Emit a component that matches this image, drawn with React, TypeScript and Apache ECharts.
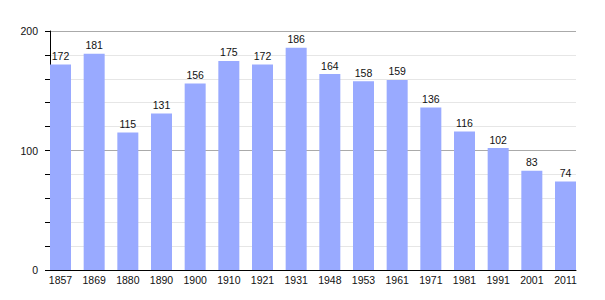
import React, { useEffect, useRef } from "react";
import * as echarts from "echarts";

const years = ["1857", "1869", "1880", "1890", "1900", "1910", "1921", "1931", "1948", "1953", "1961", "1971", "1981", "1991", "2001", "2011"];
const population = [172, 181, 115, 131, 156, 175, 172, 186, 164, 158, 159, 136, 116, 102, 83, 74];
const yMin = 0;
const yMax = 200;
const yInterval = 100;

const FONT = "'Liberation Sans', Arial, Helvetica, sans-serif";

export default function App() {
  const ref = useRef<HTMLDivElement>(null);
  useEffect(() => {
    if (!ref.current) return;
    const chart = echarts.init(ref.current, undefined, { renderer: "svg" });
    chart.setOption({
      animation: false,
      backgroundColor: "#ffffff",
      textStyle: { fontFamily: FONT },
      grid: [
        { left: 50, right: 29, top: 31, bottom: 30 },
        { left: 43.67, right: 22.67, top: 31, bottom: 30 },
      ],
      xAxis: [
        {
          gridIndex: 0,
          type: "category",
          data: years,
          axisLine: { show: true, lineStyle: { color: "#000", width: 1 } },
          axisTick: { show: false },
          axisLabel: { show: false },
          splitLine: { show: false },
        },
        {
          gridIndex: 1,
          type: "category",
          data: years,
          axisLine: { show: false },
          axisTick: { show: false },
          axisLabel: { show: true, color: "#111", fontSize: 10.5, margin: 4, fontFamily: FONT },
          splitLine: { show: false },
        },
      ],
      yAxis: [
        {
          gridIndex: 0,
          type: "value",
          min: yMin,
          max: yMax,
          interval: yInterval,
          axisLine: { show: true, lineStyle: { color: "#000", width: 1 } },
          axisTick: { show: true, length: 5, lineStyle: { color: "#000" } },
          minorTick: { show: true, splitNumber: 5, length: 5, lineStyle: { color: "#000" } },
          axisLabel: { color: "#111", fontSize: 10.5, margin: 12, fontFamily: FONT },
          splitLine: { show: true, lineStyle: { color: "#aaaaaa", width: 1 } },
          minorSplitLine: { show: true, lineStyle: { color: "#e6e6e6", width: 1 } },
        },
        {
          gridIndex: 1,
          type: "value",
          min: yMin,
          max: yMax,
          show: false,
          splitLine: { show: false },
        },
      ],
      series: [
        {
          type: "bar",
          xAxisIndex: 1,
          yAxisIndex: 1,
          data: population,
          barWidth: 21,
          itemStyle: { color: "#99aaff" },
          label: {
            show: true,
            position: "top",
            distance: 3,
            color: "#111",
            fontSize: 10.5,
            fontFamily: FONT,
          },
        },
      ],
    });
    return () => chart.dispose();
  }, []);
  return <div ref={ref} style={{ width: 605, height: 300, position: "absolute", left: 0, top: 0 }} />;
}
